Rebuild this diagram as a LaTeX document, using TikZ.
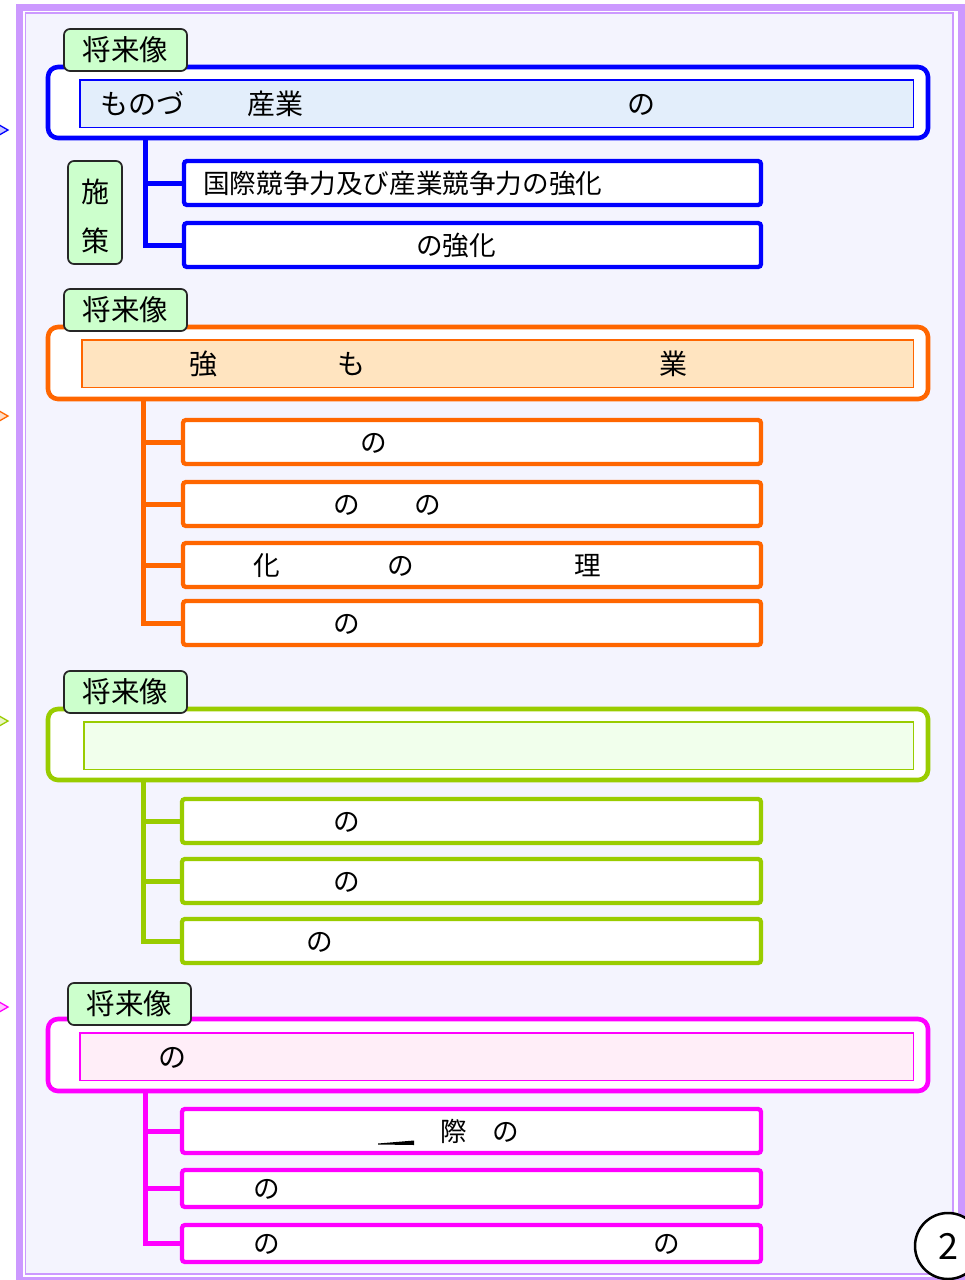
\documentclass[tikz,border=0pt]{standalone}
\usepackage{fontspec}
\setmainfont{Noto Sans CJK JP}
\definecolor{lav}{HTML}{CC99FF}
\definecolor{bgl}{HTML}{F4F4FE}
\definecolor{tagg}{HTML}{CCFFCC}
\definecolor{cblue}{HTML}{0000FF}
\definecolor{corange}{HTML}{FF6600}
\definecolor{cgreen}{HTML}{99CC00}
\definecolor{cpink}{HTML}{FF00FF}
\definecolor{iblue}{HTML}{E3EEFB}
\definecolor{iorange}{HTML}{FFE4C0}
\definecolor{igreen}{HTML}{F1FFEC}
\definecolor{ipink}{HTML}{FFEEF8}
\begin{document}
\begin{tikzpicture}[x=1pt,y=-1pt,
  outerbox/.style={draw=#1, line width=4.6pt, rounded corners=10pt, fill=white, minimum width=880pt, minimum height=71pt, inner sep=0},
  innerbox/.style 2 args={draw=#1, fill=#2, line width=1.5pt, inner sep=0, minimum height=47.5pt},
  childbox/.style={draw=#1, line width=4.3pt, rounded corners=3pt, fill=white, inner sep=0, minimum height=44pt},
  tagbox/.style={draw=black!85, line width=1.7pt, rounded corners=6pt, fill=tagg, inner sep=0, minimum width=123pt, minimum height=42pt, font=\fontsize{28.5}{30}\selectfont, text height=25pt, text depth=3.5pt},
  branch/.style={draw=#1, line width=5pt},
  jt/.style={inner sep=0, font=\fontsize{26.6}{28}\selectfont, text height=23.4pt, text depth=3.2pt},
  jtl/.style={inner sep=0, font=\fontsize{28}{30}\selectfont, text height=24.6pt, text depth=3.4pt},
  chev/.style={draw=#1, line width=1.3pt, fill=#1!22}
]
\useasboundingbox (0,0) rectangle (965,1280);
\fill[white] (0,0) rectangle (965,1280);
\fill[bgl] (25.5,13) rectangle (953,1274);
\draw[lav, line width=1.2pt] (25.5,13) rectangle (953,1274);
\draw[lav, line width=7pt] (19.5,7) rectangle (961,1280.5);

% left chevrons
\draw[chev=cblue] (-6,122) -- (8,130) -- (-6,138) -- cycle;
\draw[chev=corange] (-6,408) -- (8,416) -- (-6,424) -- cycle;
\draw[chev=cgreen] (-6,713) -- (8,721) -- (-6,729) -- cycle;
\draw[chev=cpink] (-6,999) -- (8,1007) -- (-6,1015) -- cycle;

% ---------- Section 1 (blue)
\node[outerbox=cblue] (o1) at (488,102.5) {};
\node[innerbox={cblue}{iblue}, minimum width=833.5pt] (i1) at (496.5,103.5) {};
\node[tagbox] (g1) at (125.5,50) {将来像};
\node[childbox=cblue, minimum width=577pt] (c1a) at (472.5,183) {};
\node[childbox=cblue, minimum width=577pt] (c1b) at (472.5,245) {};
\coordinate (b1) at (145,138);
\draw[branch=cblue] (b1) |- (c1b.west);
\draw[branch=cblue] (b1 |- c1a.west) -- (c1a.west);
\node[tagbox, minimum width=54pt, minimum height=103pt] (s1) at (95,212.5) {};
\node[jtl] (t1f) at (95,192) {施};
\node[jtl] (t1g) at (95,241) {策};
\node[jtl, anchor=west] (t1a) at (100,104) {ものづ};
\node[jtl, anchor=west] (t1b) at (247,104) {産業};
\node[jtl] (t1c) at (641,104) {の};
\node[jt, anchor=west] (t1d) at (203,183) {国際競争力及び産業競争力の強化};
\node[jt, anchor=west] (t1e) at (416,245) {の強化};

% ---------- Section 2 (orange)
\node[outerbox=corange, minimum height=72pt] (o2) at (488,363) {};
\node[innerbox={corange}{iorange}, minimum width=831.5pt] (i2) at (497.5,363.5) {};
\node[tagbox] (g2) at (125.5,310) {将来像};
\node[childbox=corange, minimum width=578pt] (c2a) at (472,442) {};
\node[childbox=corange, minimum width=578pt] (c2b) at (472,504) {};
\node[childbox=corange, minimum width=578pt] (c2c) at (472,565) {};
\node[childbox=corange, minimum width=578pt] (c2d) at (472,623) {};
\coordinate (b2) at (143.5,399);
\draw[branch=corange] (b2) |- (c2d.west);
\draw[branch=corange] (b2 |- c2a.west) -- (c2a.west);
\draw[branch=corange] (b2 |- c2b.west) -- (c2b.west);
\draw[branch=corange] (b2 |- c2c.west) -- (c2c.west);
\node[jtl] (t2a) at (203,364) {強};
\node[jtl] (t2b) at (351,364) {も};
\node[jtl] (t2c) at (673,364) {業};
\node[jt] (t2d) at (374,442) {の};
\node[jt] (t2e) at (347,504) {の};
\node[jt] (t2f) at (428,504) {の};
\node[jt] (t2g) at (267,565) {化};
\node[jt] (t2h) at (401,565) {の};
\node[jt] (t2i) at (588,565) {理};
\node[jt] (t2j) at (347,623) {の};

% ---------- Section 3 (green)
\node[outerbox=cgreen] (o3) at (488,744.5) {};
\node[innerbox={cgreen}{igreen}, minimum width=829.5pt] (i3) at (498.5,745.5) {};
\node[tagbox] (g3) at (125.5,692) {将来像};
\node[childbox=cgreen, minimum width=579pt] (c3a) at (471.5,821) {};
\node[childbox=cgreen, minimum width=579pt] (c3b) at (471.5,881) {};
\node[childbox=cgreen, minimum width=579pt] (c3c) at (471.5,941) {};
\coordinate (b3) at (143.5,780);
\draw[branch=cgreen] (b3) |- (c3c.west);
\draw[branch=cgreen] (b3 |- c3a.west) -- (c3a.west);
\draw[branch=cgreen] (b3 |- c3b.west) -- (c3b.west);
\node[jt] (t3a) at (347,821) {の};
\node[jt] (t3b) at (347,881) {の};
\node[jt] (t3c) at (320,941) {の};

% ---------- Section 4 (magenta)
\node[outerbox=cpink, minimum height=72pt] (o4) at (488,1055) {};
\node[innerbox={cpink}{ipink}, minimum width=833.5pt] (i4) at (496.5,1056.5) {};
\node[tagbox] (g4) at (129.5,1004) {将来像};
\node[childbox=cpink, minimum width=579pt] (c4a) at (471.5,1131) {};
\node[childbox=cpink, minimum width=579pt, minimum height=37pt] (c4b) at (471.5,1188.5) {};
\node[childbox=cpink, minimum width=579pt, minimum height=37pt] (c4c) at (471.5,1243.5) {};
\coordinate (b4) at (145.5,1091);
\draw[branch=cpink] (b4) |- (c4c.west);
\draw[branch=cpink] (b4 |- c4a.west) -- (c4a.west);
\draw[branch=cpink] (b4 |- c4b.west) -- (c4b.west);
\node[jtl] (t4a) at (172,1057) {の};
\fill (378,1143.5) -- (414,1140.5) -- (414,1145) -- (378,1144.5) -- cycle;
\node[jt] (t4b) at (454,1131) {際};
\node[jt] (t4c) at (506,1131) {の};
\node[jt] (t4d) at (267,1188.5) {の};
\node[jt] (t4e) at (267,1243.5) {の};
\node[jt] (t4f) at (667,1243.5) {の};

% page number
\node[circle, draw=black, line width=2.5pt, fill=white, minimum size=66pt, inner sep=0, font=\fontsize{36}{38}\selectfont] (pg) at (948,1246) {2};
\end{tikzpicture}
\end{document}
